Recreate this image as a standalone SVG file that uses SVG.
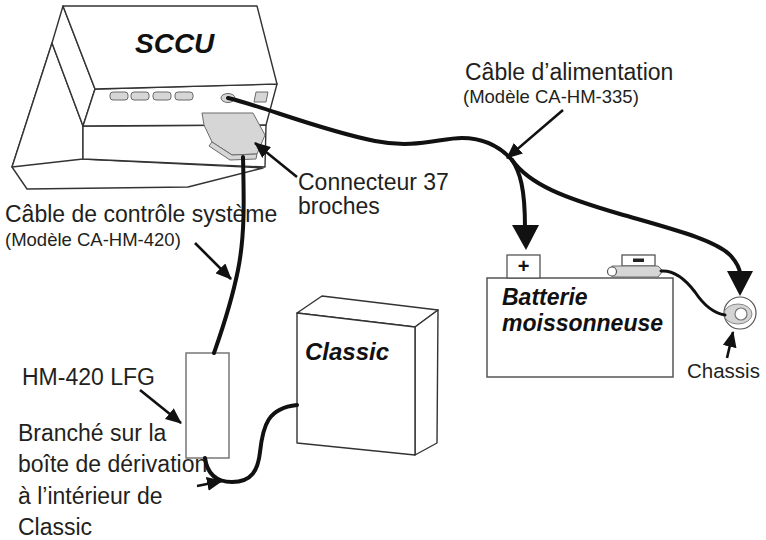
<svg xmlns="http://www.w3.org/2000/svg" width="766" height="540" viewBox="0 0 766 540">
  <defs>
    <style>
      .lbl { font-family: "Liberation Sans", Arial, sans-serif; font-size: 23px; fill: #231f20; }
      .sml { font-family: "Liberation Sans", Arial, sans-serif; font-size: 18.5px; fill: #231f20; }
      .ttl { font-family: "Liberation Sans", Arial, sans-serif; font-weight: bold; font-style: italic; fill: #111; }
      .edge { fill: #fff; stroke: #333; stroke-width: 1.4; stroke-linejoin: round; }
      .port { fill: #d6d6d6; stroke: #6a6a6a; stroke-width: 1; }
      .cable { fill: none; stroke: #111; stroke-width: 4; stroke-linecap: round; }
      .thin { fill: none; stroke: #111; stroke-width: 3; stroke-linecap: round; }
      .lead { fill: none; stroke: #111; stroke-width: 2.6; marker-end: url(#head); }
      .tip { fill: #111; }
    </style>
    <marker id="head" markerUnits="userSpaceOnUse" viewBox="0 0 16 14" refX="15" refY="7" markerWidth="16" markerHeight="14" orient="auto">
      <path d="M0,0 L16,7 L0,14 Z" fill="#111"/>
    </marker>
  </defs>

  <rect width="766" height="540" fill="#fff"/>

  <!-- SCCU control unit -->
  <g id="sccu">
    <polygon class="edge" points="52,43 12,167 27,189 188,187 263,168 83,159"/>
    <polygon class="edge" points="52,43 12,167 83,159 83,126"/>
    <polygon class="edge" points="83,126 266,125 265,167 83,159"/>
    <polygon class="edge" points="63,6 52,43 83,126 95,89"/>
    <polygon class="edge" points="95,89 277,84 266,125 83,126"/>
    <polygon class="edge" points="63,6 257,6 277,84 95,89"/>
    <rect class="port" x="110" y="92" width="18" height="8" rx="3"/>
    <rect class="port" x="131" y="92" width="18" height="8" rx="3"/>
    <rect class="port" x="153" y="92" width="18" height="8" rx="3"/>
    <rect class="port" x="175" y="92" width="18" height="8" rx="3"/>
    <ellipse class="port" cx="228" cy="98" rx="7" ry="4.5"/>
    <polygon class="port" points="256,92 268,92 266,102 254,102"/>
    <text class="ttl" x="135" y="53" font-size="28">SCCU</text>
  </g>

  <!-- 37-pin plug -->
  <g id="connector37">
    <polygon class="port" points="202,113 253,113 265,135 257,154 232,155 212,142 204,125" fill="#dcdcdc"/>
    <polygon class="port" points="212,142 232,155 257,154 256,159 230,160 209,146" fill="#ececec"/>
  </g>

  <!-- Classic box -->
  <g id="classic">
    <polygon class="edge" stroke="#111" points="297,313 322,296 438,310 415,327"/>
    <polygon class="edge" stroke="#111" points="415,327 438,310 437,443 415,455"/>
    <polygon class="edge" stroke="#111" points="297,313 415,327 415,455 297,443"/>
    <text class="ttl" x="305" y="360" font-size="24">Classic</text>
  </g>

  <!-- HM-420 LFG -->
  <g id="lfg">
    <rect x="186" y="353" width="43" height="105" fill="#fff" stroke="#777" stroke-width="1.5"/>
  </g>

  <!-- Harvester battery -->
  <g id="battery">
    <rect x="487" y="278" width="186" height="99" fill="#fff" stroke="#555" stroke-width="1.5"/>
    <rect x="507" y="255" width="33" height="23" fill="#fff" stroke="#555" stroke-width="1.3"/>
    <text x="523.5" y="273" text-anchor="middle" font-family="Liberation Sans, Arial, sans-serif" font-weight="bold" font-size="20" fill="#111">+</text>
    <rect x="622" y="255" width="33" height="11" fill="#fff" stroke="#555" stroke-width="1.3"/>
    <rect x="633" y="258.5" width="11" height="3.5" fill="#222"/>
    <path d="M612,266 L658,266 L663,271 L658,277 L612,277 Z" class="port" fill="#d9d9d9"/>
    <ellipse cx="612" cy="271.5" rx="4.5" ry="4.5" fill="#fff" stroke="#555" stroke-width="1.2"/>
    <text class="ttl" x="502" y="305" font-size="23">Batterie</text>
    <text class="ttl" x="502" y="331" font-size="23">moissonneuse</text>
  </g>

  <!-- Chassis ground stud -->
  <g id="chassis">
    <circle cx="740" cy="313" r="16" fill="#fff" stroke="#555" stroke-width="1.2"/>
    <ellipse cx="738" cy="314" rx="14" ry="10" fill="#d4d4d4" stroke="#888" stroke-width="1"/>
    <circle cx="741" cy="314" r="6" fill="#fff" stroke="#777" stroke-width="1.2"/>
  </g>

  <!-- Labels -->
  <g id="labels">
    <text class="lbl" x="465" y="80">Câble d’alimentation</text>
    <text class="sml" x="463" y="103">(Modèle CA-HM-335)</text>
    <text class="lbl" x="298" y="190">Connecteur 37</text>
    <text class="lbl" x="298" y="214">broches</text>
    <text class="lbl" x="5" y="222">Câble de contrôle système</text>
    <text class="sml" x="5" y="246">(Modèle CA-HM-420)</text>
    <text class="lbl" x="22" y="385">HM-420 LFG</text>
    <text class="lbl" x="18" y="441">Branché sur la</text>
    <text class="lbl" x="18" y="472">boîte de dérivation</text>
    <text class="lbl" x="18" y="504">à l’intérieur de</text>
    <text class="lbl" x="18" y="535">Classic</text>
    <text class="lbl" x="687" y="378" style="font-size:20.5px">Chassis</text>
  </g>

  <!-- Cables and leader arrows -->
  <g id="connectors">
    <path class="cable" d="M228,98 C262,106 320,130 375,141 C415,149 440,138 462,138 C488,138 503,150 512,160"/>
    <path class="cable" d="M512,160 C520,172 525,188 525,228"/>
    <polygon class="tip" points="512,225 539,225 526,250"/>
    <path class="cable" d="M512,160 C530,185 565,198 620,214 C672,229 716,240 731,256 C737,263 740,268 740,274"/>
    <polygon class="tip" points="727,271 753,271 740,296"/>
    <path class="thin" d="M661,271 C675,270 686,280 695,292 C703,304 712,313 725,315"/>
    <path class="cable" d="M243,157 C244,200 245,235 238,270 C231,305 222,330 214,353"/>
    <path class="cable" d="M205,458 C207,472 215,482 232,482 C252,482 258,470 260,452 C263,425 268,408 297,405"/>

    <line class="lead" x1="297" y1="177" x2="255" y2="143"/>
    <line class="lead" x1="563" y1="110" x2="507" y2="158"/>
    <line class="lead" x1="195" y1="243" x2="231" y2="279"/>
    <line class="lead" x1="140" y1="390" x2="181" y2="423"/>
    <line class="lead" x1="197" y1="486" x2="222" y2="481"/>
    <line class="lead" x1="727" y1="358" x2="733" y2="332"/>
  </g>
</svg>
